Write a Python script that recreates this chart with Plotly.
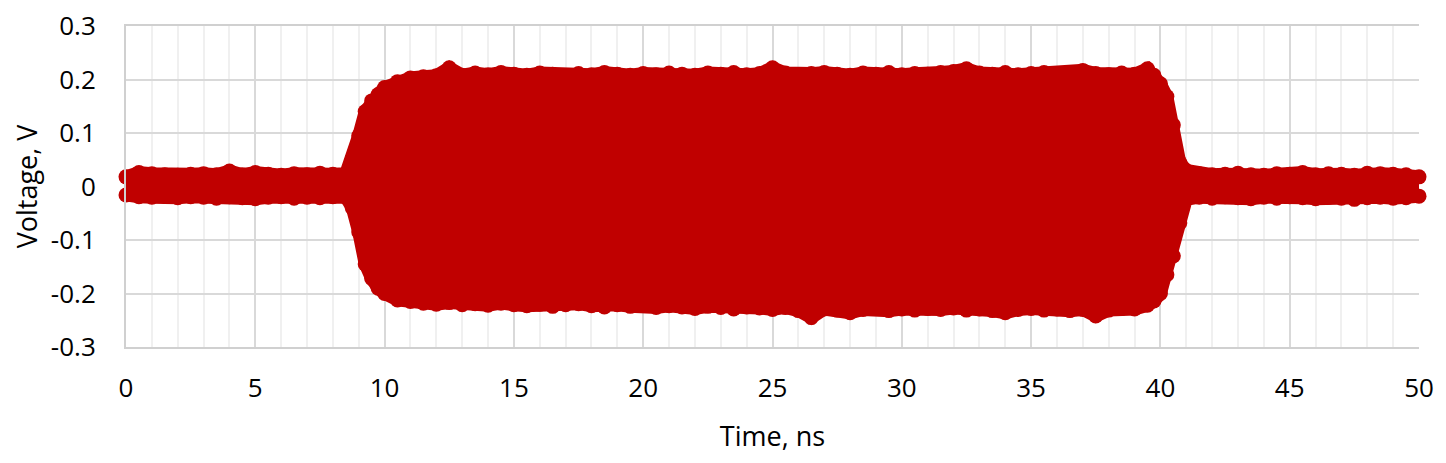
import plotly.graph_objects as go

t_pre = [0, 0.5, 1, 1.5, 2, 2.5, 3, 3.5, 4, 4.5, 5, 5.5, 6, 6.5, 7, 7.5, 8, 8.5]
up_pre = [0.018, 0.026, 0.024, 0.022, 0.021, 0.023, 0.024, 0.022, 0.029, 0.022,
          0.026, 0.023, 0.021, 0.024, 0.022, 0.025, 0.023, 0.024]
lo_pre = [-0.016, -0.019, -0.020, -0.018, -0.021, -0.019, -0.020, -0.022, -0.019, -0.021,
          -0.023, -0.020, -0.019, -0.022, -0.020, -0.021, -0.019, -0.020]

t_rise = [8.75, 9.0, 9.25, 9.5, 9.75, 10.0, 10.5]
up_rise = [0.052, 0.095, 0.140, 0.160, 0.172, 0.185, 0.196]
lo_rise = [-0.040, -0.085, -0.145, -0.172, -0.190, -0.200, -0.212]

t_burst = [11.0, 11.5, 12.0, 12.5, 13.0, 13.5, 14.0, 14.5, 15.0, 15.5,
           16.0, 16.5, 17.0, 17.5, 18.0, 18.5, 19.0, 19.5, 20.0, 20.5,
           21.0, 21.5, 22.0, 22.5, 23.0, 23.5, 24.0, 24.5, 25.0, 25.5,
           26.0, 26.5, 27.0, 27.5, 28.0, 28.5, 29.0, 29.5, 30.0, 30.5,
           31.0, 31.5, 32.0, 32.5, 33.0, 33.5, 34.0, 34.5, 35.0, 35.5,
           36.0, 36.5, 37.0, 37.5, 38.0, 38.5, 39.0, 39.5]
up_burst = [0.203, 0.205, 0.207, 0.222, 0.208, 0.212, 0.209, 0.213, 0.210, 0.208,
            0.212, 0.210, 0.207, 0.211, 0.209, 0.213, 0.210, 0.208, 0.211, 0.209,
            0.212, 0.210, 0.208, 0.212, 0.210, 0.213, 0.209, 0.211, 0.222, 0.212,
            0.209, 0.211, 0.213, 0.210, 0.208, 0.212, 0.210, 0.213, 0.209, 0.211,
            0.210, 0.213, 0.215, 0.220, 0.212, 0.210, 0.213, 0.209, 0.211, 0.213,
            0.210, 0.212, 0.217, 0.211, 0.209, 0.212, 0.210, 0.220]
lo_burst = [-0.215, -0.218, -0.220, -0.217, -0.221, -0.219, -0.222, -0.218, -0.221, -0.223,
            -0.220, -0.224, -0.221, -0.219, -0.223, -0.225, -0.221, -0.224, -0.222, -0.226,
            -0.223, -0.225, -0.228, -0.224, -0.226, -0.229, -0.225, -0.227, -0.230, -0.226,
            -0.232, -0.245, -0.229, -0.231, -0.236, -0.230, -0.228, -0.232, -0.229, -0.231,
            -0.228, -0.230, -0.227, -0.231, -0.229, -0.232, -0.236, -0.230, -0.228, -0.231,
            -0.229, -0.232, -0.230, -0.242, -0.231, -0.228, -0.229, -0.222]

t_fall = [39.75, 40.0, 40.25, 40.5, 40.75, 41.0]
up_fall = [0.208, 0.192, 0.168, 0.115, 0.045, 0.030]
lo_fall = [-0.214, -0.200, -0.165, -0.130, -0.068, -0.024]

t_post = [41.5, 42, 42.5, 43, 43.5, 44, 44.5, 45, 45.5, 46, 46.5, 47, 47.5, 48, 48.5, 49, 49.5, 50]
up_post = [0.024, 0.022, 0.023, 0.025, 0.022, 0.021, 0.024, 0.023, 0.026, 0.022,
           0.024, 0.023, 0.021, 0.025, 0.024, 0.023, 0.022, 0.018]
lo_post = [-0.020, -0.022, -0.019, -0.021, -0.023, -0.020, -0.022, -0.019, -0.021, -0.023,
           -0.020, -0.022, -0.024, -0.021, -0.020, -0.022, -0.021, -0.018]

x_ticks = [0, 5, 10, 15, 20, 25, 30, 35, 40, 45, 50]
y_ticks = [-0.3, -0.2, -0.1, 0, 0.1, 0.2, 0.3]
y_tick_text = ["-0.3", "-0.2", "-0.1", "0", "0.1", "0.2", "0.3"]

t = t_pre + t_rise + t_burst + t_fall + t_post
upper = up_pre + up_rise + up_burst + up_fall + up_post
lower = lo_pre + lo_rise + lo_burst + lo_fall + lo_post
assert len(t) == len(upper) == len(lower)

RED = "#C00000"
FONT = "Open Sans"

fig = go.Figure()
# solid body of the dense trace (outline stroked to the marker radius)
fig.add_trace(go.Scatter(
    x=t + t[::-1], y=upper + lower[::-1], mode="lines", fill="toself",
    fillcolor=RED, line=dict(color=RED, width=13), hoverinfo="skip", showlegend=False))
for series in (upper, lower):
    fig.add_trace(go.Scatter(
        x=t, y=series, mode="markers", cliponaxis=False,
        marker=dict(color=RED, size=15, line=dict(width=0)), showlegend=False))

# page body has an 8px default margin, so the figure is sized to fit inside it
fig.update_layout(
    width=1430, height=447,
    margin=dict(l=118, r=19, t=18, b=108, autoexpand=False),
    paper_bgcolor="white", plot_bgcolor="white",
    font=dict(family=FONT, size=26, color="#000000"),
    showlegend=False,
)
fig.update_xaxes(
    range=[0, 50], tickvals=x_ticks, showgrid=True, gridcolor="#D9D9D9", gridwidth=2,
    minor=dict(dtick=1, showgrid=True, gridcolor="#F0F0F0", gridwidth=2),
    showline=True, mirror=True, linecolor="#D0D0D0", linewidth=2, zeroline=False,
    ticks="", ticklabelstandoff=17, automargin=False, ticklabeloverflow="allow",
    title=dict(text="Time, ns", font=dict(family=FONT, size=27), standoff=23),
)
fig.update_yaxes(
    range=[-0.3, 0.3], tickvals=y_ticks, ticktext=y_tick_text,
    showgrid=True, gridcolor="#D9D9D9", gridwidth=2,
    showline=True, linecolor="#D0D0D0", linewidth=2, zeroline=False,
    ticks="", ticklabelstandoff=23, automargin=False, ticklabeloverflow="allow",
    title=dict(text="Voltage, V", font=dict(family=FONT, size=27), standoff=20),
)

fig.write_html("out.html")
